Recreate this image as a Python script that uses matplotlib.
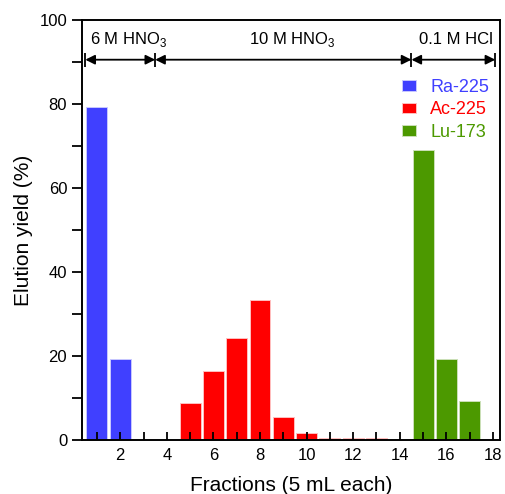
import matplotlib
matplotlib.use("Agg")
from matplotlib import pyplot as plt
from matplotlib.ticker import MultipleLocator

plt.rcParams['font.family'] = ['Liberation Sans', 'DejaVu Sans']
plt.rcParams['mathtext.fontset'] = 'custom'
plt.rcParams['mathtext.rm'] = 'Liberation Sans'

# data
ra_x = [1, 2]
ra_y = [79.2, 19.3]
ac_x = [5, 6, 7, 8, 9, 10, 11, 12, 13]
ac_y = [8.9, 16.4, 24.3, 33.4, 5.5, 1.6, 0.4, 0.4, 0.4]
lu_x = [15, 16, 17]
lu_y = [69.0, 19.3, 9.4]

# eluent regions (fraction boundaries) and labels
bounds = [0.5, 3.5, 14.5, 18.1]
eluents = ['6 M HNO$_3$', '10 M HNO$_3$', '0.1 M HCl']
eluent_x = [2.35, 9.4, 16.4]

c_ra = '#4040ff'
c_ac = '#ff0000'
c_lu = '#4c9900'

fig = plt.figure(figsize=(5.05, 4.94), dpi=100)
ax = fig.add_axes([0.162, 0.109, 0.828, 0.851])

ax.bar(ra_x, ra_y, width=0.9, color=c_ra, edgecolor='#c8c8ff', linewidth=0.7, label='Ra-225')
ax.bar(ac_x, ac_y, width=0.9, color=c_ac, edgecolor='#ffc0c0', linewidth=0.7, label='Ac-225')
ax.bar(lu_x, lu_y, width=0.9, color=c_lu, edgecolor='#cce0b8', linewidth=0.7, label='Lu-173')

ax.set_xlim(0.35, 18.3)
ax.set_ylim(0, 100)

# x ticks: every fraction inward, labels on even ones
ax.set_xticks(range(1, 19))
ax.set_xticklabels([str(i) if i % 2 == 0 else '' for i in range(1, 19)])
ax.tick_params(axis='x', direction='in', length=6, width=1.3, labelsize=12, pad=6)
ax.yaxis.set_major_locator(MultipleLocator(20))
ax.yaxis.set_minor_locator(MultipleLocator(10))
ax.tick_params(axis='y', which='both', direction='out', length=7, width=1.3, labelsize=12)

for s in ax.spines.values():
    s.set_linewidth(1.4)

ax.set_xlabel('Fractions (5 mL each)', fontsize=15, labelpad=9)
ax.set_ylabel('Elution yield (%)', fontsize=15, labelpad=5)

# eluent arrows
for i in range(len(eluents)):
    ax.annotate('', xy=(bounds[i], 90.5), xytext=(bounds[i + 1], 90.5),
                arrowprops=dict(arrowstyle='<|-|>', color='black', lw=1.3,
                                shrinkA=0, shrinkB=0, mutation_scale=14))
    ax.text(eluent_x[i], 95.3, eluents[i], fontsize=12, ha='center', va='center')
ax.vlines(bounds, 88.8, 92.2, color='black', lw=1.3)

ax.legend(loc='upper right', bbox_to_anchor=(1.0, 0.885), frameon=False, fontsize=13,
          handlelength=0.75, handleheight=0.55, handletextpad=0.8, labelspacing=0.3,
          borderaxespad=0.2, labelcolor=[c_ra, c_ac, c_lu])

fig.savefig('out.png', dpi=100)
